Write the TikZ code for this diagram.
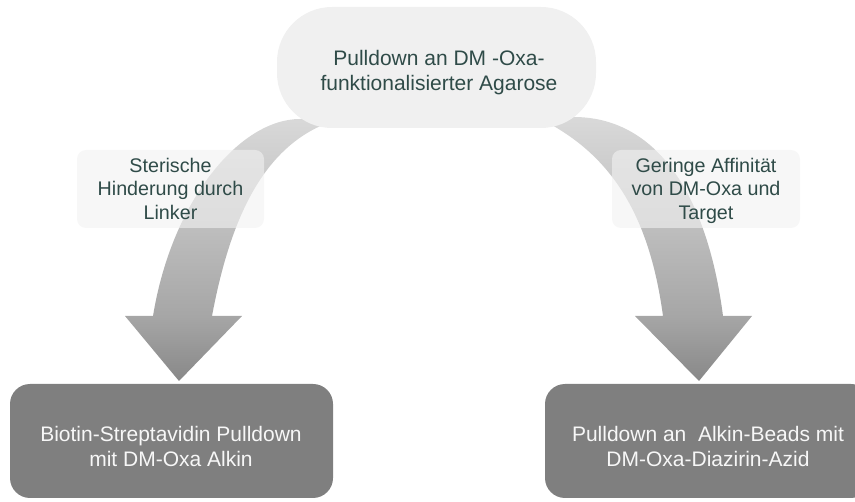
\documentclass[tikz,border=0pt]{standalone}
\usepackage{fontspec}
\setmainfont{Liberation Sans}
\definecolor{txtdark}{HTML}{2F4B48}
\definecolor{topfill}{HTML}{F0F0F0}
\definecolor{labfill}{HTML}{F2F2F2}
\definecolor{botfill}{HTML}{7F7F7F}
\definecolor{bottxt}{HTML}{F7F7F7}
\definecolor{ash0}{HTML}{888888}
\definecolor{ash1}{HTML}{A6A6A6}
\definecolor{ash2}{HTML}{BDBDBD}
\definecolor{ash3}{HTML}{DADADA}
\pgfdeclareverticalshading{arrowshade}{100bp}{color(0bp)=(ash0); color(25bp)=(ash0); color(37bp)=(ash1); color(53bp)=(ash2); color(75bp)=(ash3); color(100bp)=(ash3)}
\begin{document}
\begin{tikzpicture}[x=1pt,y=-1pt,
  topbox/.style={fill=topfill, rounded corners=55pt, inner sep=0pt, minimum width=319pt, minimum height=121pt},
  labbox/.style={fill=labfill, fill opacity=0.6, rounded corners=9pt, inner sep=0pt, minimum width=187pt, minimum height=78pt},
  botbox/.style={fill=botfill, rounded corners=20pt, inner sep=0pt, minimum height=114pt},
  toptext/.style={text=txtdark, align=center, inner sep=0pt, font=\fontsize{21}{24.3}\selectfont},
  labtext/.style={text=txtdark, align=center, inner sep=0pt, font=\fontsize{19.7}{23.3}\selectfont},
  bottext/.style={text=bottxt, align=center, inner sep=0pt, font=\fontsize{21}{25}\selectfont},
  bigarrow/.style={shading=arrowshade}
]
\useasboundingbox (0,0) rectangle (855,502);
\clip (0,0) rectangle (855,502);

% curved arrows
\path[bigarrow] (179,381) -- (125,316) -- (153,316)
  .. controls (172,200) and (240,119) .. (300,119) -- (340,112) -- (325,124)
  .. controls (262,150) and (230,220) .. (212,316) -- (242,316) -- cycle;
\path[bigarrow] (699,381) -- (752,316) -- (723,316)
  .. controls (708,200) and (660,118) .. (575,117) -- (535,112) -- (550,124)
  .. controls (615,160) and (650,220) .. (663,316) -- (635,316) -- cycle;

% top box
\node[topbox] (top) at (436.5,67.5) {};
\node[toptext] (toptxt) at (439,73) {\strut Pulldown an DM -Oxa-\\funktionalisierter Agarose\strut};

% labels
\node[labbox] (llab) at (170.5,189) {};
\node[labtext] (llabtxt) at (170.5,191.3) {\strut Sterische\\\strut Hinderung durch\\Linker\strut};
\node[labbox, minimum width=188pt] (rlab) at (706,189) {};
\node[labtext] (rlabtxt) at (706,191.3) {\strut Geringe Affinität\\\strut von DM-Oxa und\\Target\strut};

% bottom boxes
\node[botbox, minimum width=323pt] (lbot) at (171.5,441) {};
\node[bottext] (lbottxt) at (171,449.2) {\strut Biotin-Streptavidin Pulldown\\mit DM-Oxa Alkin\strut};
\node[botbox, minimum width=326pt] (rbot) at (708,441) {};
\node[bottext] (rbottxt) at (708,449.2) {\strut Pulldown an\ \ Alkin-Beads mit\\DM-Oxa-Diazirin-Azid\strut};
\end{tikzpicture}
\end{document}
